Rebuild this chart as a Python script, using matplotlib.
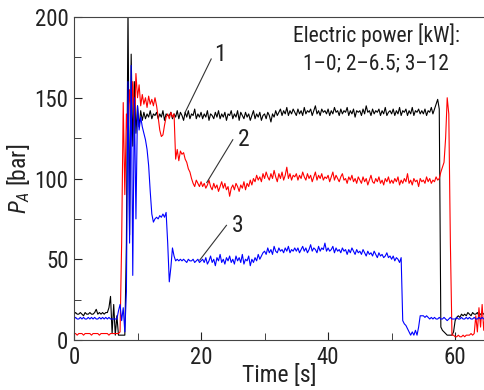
import numpy as np
import matplotlib
matplotlib.use("Agg")
import matplotlib.pyplot as plt
from matplotlib.ticker import MultipleLocator
from matplotlib import font_manager

# time grid (s), sampling step 0.25 s
time_s = np.arange(0, 65, 0.25)

# Series 1 – electric power 0 kW (black)
p1 = [
    16, 17, 16, 16, 17, 16, 15, 17, 16, 16, 17, 16, 16, 17, 19, 16, 17, 16, 17, 16,
    17, 17, 20, 27, 4, 22, 3, 15, 3, 3, 3, 3, 3, 60, 205, 65, 177, 120, 160, 128,
    145, 132, 142, 136, 141, 137, 140, 138, 142, 137, 140, 139, 141, 137, 140, 138, 142, 136, 140, 139,
    139, 141, 137, 140, 138, 142, 137, 141, 139, 136, 141, 138, 142, 137, 140, 139, 143, 137, 140, 138,
    141, 137, 140, 138, 142, 136, 140, 139, 137, 141, 138, 142, 137, 140, 138, 141, 136, 140, 139, 142,
    137, 140, 138, 142, 136, 141, 139, 137, 141, 138, 140, 136, 139, 142, 137, 140, 138, 141, 136, 139,
    140, 137, 141, 139, 135, 140, 138, 142, 139, 141, 143, 139, 142, 140, 144, 139, 142, 140, 143, 141,
    139, 143, 140, 142, 139, 144, 140, 142, 141, 143, 139, 142, 145, 140, 142, 139, 143, 141, 142, 140,
    143, 139, 142, 140, 144, 141, 142, 139, 143, 140, 142, 141, 144, 139, 142, 140, 143, 138, 142, 141,
    142, 139, 143, 140, 145, 141, 142, 139, 143, 140, 142, 141, 143, 139, 142, 140, 144, 139, 141, 142,
    140, 143, 139, 142, 140, 144, 139, 142, 141, 143, 139, 142, 140, 144, 139, 142, 141, 143, 140, 142,
    140, 143, 139, 142, 141, 144, 140, 143, 146, 149, 143, 8, 6, 5, 4, 3, 3, 3, 3, 5,
    12, 14, 15, 14, 16, 15, 16, 15, 17, 16, 15, 17, 16, 16, 17, 15, 16, 17, 16, 16,
]

# Series 2 – electric power 6.5 kW (red)
p2 = [
    4, 4, 3, 4, 4, 4, 3, 4, 4, 4, 4, 3, 4, 4, 4, 4, 3, 4, 4, 4,
    4, 4, 3, 4, 4, 4, 4, 4, 4, 5, 60, 147, 90, 140, 125, 155, 140, 160, 130, 165,
    150, 158, 145, 152, 146, 150, 144, 151, 146, 149, 145, 150, 145, 138, 130, 126, 127, 133, 138, 140,
    137, 141, 138, 140, 112, 118, 111, 117, 115, 116, 112, 110, 106, 104, 100, 97, 95, 99, 97, 95,
    98, 95, 97, 94, 96, 99, 95, 93, 97, 94, 96, 92, 95, 98, 94, 97, 93, 95, 89, 94,
    96, 93, 97, 95, 92, 96, 94, 98, 93, 97, 95, 99, 96, 100, 98, 102, 99, 101, 98, 103,
    100, 104, 101, 99, 103, 100, 105, 101, 98, 103, 100, 104, 99, 102, 107, 100, 103, 99, 102, 101,
    103, 99, 102, 100, 104, 101, 99, 103, 100, 102, 98, 101, 104, 99, 102, 100, 103, 99, 101, 100,
    102, 98, 101, 104, 99, 102, 100, 98, 101, 103, 99, 100, 97, 101, 99, 102, 98, 100, 97, 101,
    99, 97, 101, 98, 100, 96, 99, 102, 98, 97, 100, 98, 101, 97, 99, 96, 100, 98, 101, 97,
    99, 97, 100, 98, 101, 96, 99, 97, 100, 98, 103, 97, 99, 96, 100, 98, 99, 95, 100, 98,
    99, 97, 101, 98, 100, 97, 99, 98, 101, 99, 100, 104, 107, 110, 125, 150, 140, 60, 3, 3,
    2, 2, 3, 2, 2, 3, 2, 3, 3, 3, 4, 3, 4, 15, 5, 20, 8, 22, 6, 18,
]

# Series 3 – electric power 12 kW (blue)
p3 = [
    13, 14, 13, 13, 14, 13, 14, 13, 13, 14, 13, 14, 13, 14, 13, 13, 14, 13, 14, 13,
    14, 13, 14, 13, 13, 13, 13, 13, 18, 22, 12, 20, 5, 30, 160, 60, 170, 40, 150, 75,
    145, 130, 138, 132, 128, 124, 118, 108, 92, 78, 73, 75, 76, 75, 77, 76, 78, 76, 79, 60,
    36, 45, 57, 52, 49, 50, 49, 50, 49, 50, 49, 48, 50, 49, 49, 50, 48, 49, 50, 48,
    49, 50, 48, 51, 47, 49, 52, 48, 50, 46, 51, 49, 53, 48, 50, 47, 51, 49, 52, 48,
    50, 47, 52, 49, 51, 48, 53, 47, 50, 49, 52, 46, 50, 48, 51, 49, 53, 50, 52, 54,
    55, 53, 57, 54, 56, 53, 58, 55, 54, 57, 55, 56, 54, 57, 55, 58, 54, 56, 55, 57,
    55, 57, 54, 56, 58, 55, 57, 54, 56, 59, 55, 57, 56, 54, 58, 55, 57, 56, 60, 55,
    57, 55, 56, 58, 54, 57, 55, 56, 54, 57, 55, 56, 53, 56, 54, 57, 55, 53, 56, 54,
    55, 53, 56, 54, 52, 55, 53, 54, 52, 55, 53, 51, 54, 52, 53, 51, 52, 54, 51, 52,
    50, 52, 49, 51, 50, 48, 51, 12, 10, 9, 7, 5, 3, 5, 3, 6, 3, 8, 15, 15,
    15, 14, 15, 14, 13, 14, 13, 14, 13, 13, 14, 13, 13, 14, 13, 12, 13, 14, 13, 13,
    13, 14, 13, 13, 14, 13, 13, 14, 13, 14, 13, 13, 14, 13, 13, 14, 13, 14, 13, 13,
]

series_labels = ["1", "2", "3"]
legend_title = "Electric power [kW]:"
legend_body = "1\u20130; 2\u20136.5; 3\u201312"

installed = {f.name for f in font_manager.fontManager.ttflist}
candidates = ["Roboto Condensed", "Liberation Sans Narrow", "Arial Narrow", "Roboto"]
main_font = next((c for c in candidates if c in installed), "DejaVu Sans")
FONT = [main_font, "DejaVu Sans"]
plt.rcParams["font.family"] = FONT
plt.rcParams["mathtext.fontset"] = "custom"
plt.rcParams["mathtext.it"] = main_font + ":italic"
plt.rcParams["mathtext.rm"] = main_font

TXT = "#222222"
fig = plt.figure(figsize=(4.85, 3.9), dpi=100)
ax = fig.add_axes([74 / 485, 1 - 340 / 390, 1 - 74 / 485, (340 - 17) / 390])

ax.plot(time_s, p1, color="#000000", lw=0.8)
ax.plot(time_s, p2, color="#ff0000", lw=0.8)
ax.plot(time_s, p3, color="#0000ff", lw=0.8)

ax.set_xlim(0, 64.7)
ax.set_ylim(0, 200)
ax.xaxis.set_major_locator(MultipleLocator(20))
ax.xaxis.set_minor_locator(MultipleLocator(10))
ax.yaxis.set_major_locator(MultipleLocator(50))
ax.yaxis.set_minor_locator(MultipleLocator(25))
ax.tick_params(which="both", direction="in", labelsize=16.5, colors=TXT, pad=4)
ax.tick_params(which="major", length=6)
ax.tick_params(which="minor", length=5)
for s in ["left", "bottom", "top"]:
    ax.spines[s].set_color("#444444")
ax.spines["right"].set_visible(False)

ax.set_xlabel("Time [s]", fontsize=17, labelpad=-3, color=TXT)
ax.set_ylabel("$P_A$ [bar]", fontsize=17, labelpad=2, color=TXT)

# leader lines with series numbers
ax.plot([17.5, 21.6], [141, 174], color="#333333", lw=0.8)
ax.text(22.0, 177, series_labels[0], fontsize=17, ha="left", va="center", color=TXT)
ax.plot([20.9, 25.0], [97.5, 124], color="#333333", lw=0.8)
ax.text(25.8, 124, series_labels[1], fontsize=17, ha="left", va="center", color=TXT)
ax.plot([19.8, 24.0], [49.5, 71], color="#333333", lw=0.8)
ax.text(24.8, 71, series_labels[2], fontsize=17, ha="left", va="center", color=TXT)

ax.text(47.6, 188.5, legend_title, fontsize=15.5, ha="center", va="center", color=TXT)
ax.text(47.6, 171, legend_body, fontsize=15.5, ha="center", va="center", color=TXT)

fig.savefig("out.png", dpi=100)
